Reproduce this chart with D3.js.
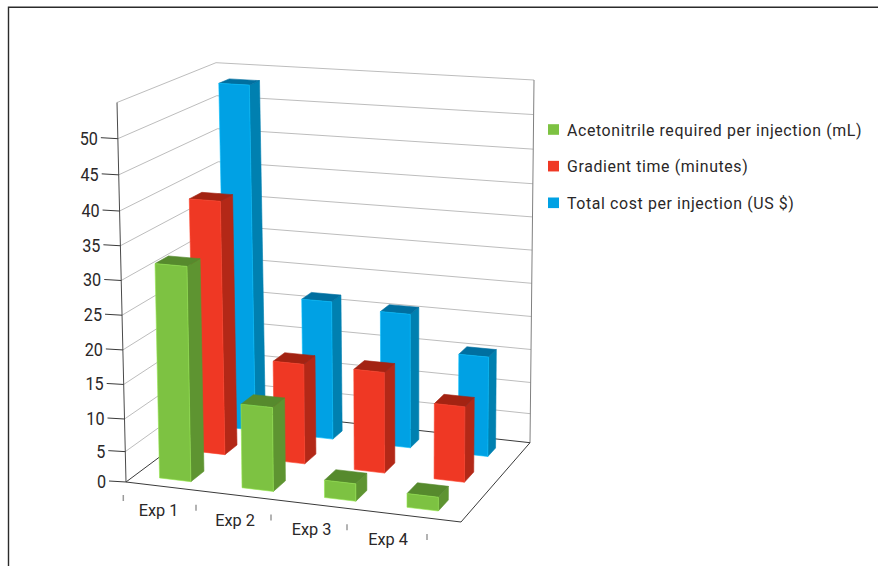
<!DOCTYPE html>
<html>
<head>
<meta charset="utf-8">
<script src="https://cdn.jsdelivr.net/npm/d3@7"></script>
<style>
  html, body { margin: 0; padding: 0; background: #fff; }
  svg { display: block; }
  text { font-family: "Roboto", sans-serif; fill: #2a2728; }
</style>
</head>
<body>
<svg id="chart" width="878" height="566"></svg>
<script>
// Chart data
const categories = ["Exp 1", "Exp 2", "Exp 3", "Exp 4"];
const seriesNames = [
  "Acetonitrile required per injection (mL)",
  "Gradient time (minutes)",
  "Total cost per injection (US $)"
];
const acetonitrile = [32, 12.9, 2.8, 2.2];
const gradientTime = [38.7, 15.6, 15.6, 11.8];
const totalCost = [53.4, 21.8, 21, 15.7];
const valueTicks = [0, 5, 10, 15, 20, 25, 30, 35, 40, 45, 50];
const seriesValues = [acetonitrile, gradientTime, totalCost];

const faceColors = [
  { front: "#7dc242", side: "#5e9431", top: "#568a2d" },
  { front: "#ef3824", side: "#b32817", top: "#a32312" },
  { front: "#00a1e4", side: "#0080b0", top: "#006fa0" }
];

const svg = d3.select("#chart");

// The plot box: eight corners, indexed by across (0/1), depth (0/1), height (0/1).
const boxCorners = {
  "000": [126, 482], "100": [461, 522], "110": [530, 442.7], "010": [224, 409],
  "001": [117, 102.5], "101": [464, 125], "111": [534, 80], "011": [216, 62.7]
};
function project(u, v, w) {
  let x = 0, y = 0;
  for (const a of [0, 1]) for (const b of [0, 1]) for (const c of [0, 1]) {
    const k = (a ? u : 1 - u) * (b ? v : 1 - v) * (c ? w : 1 - w);
    const p = boxCorners["" + a + b + c];
    x += k * p[0];
    y += k * p[1];
  }
  return [x, y];
}

// Scales from data space to the unit box
const uScale = d3.scaleBand().domain(categories).range([0.073, 0.912]).paddingInner(0.62).paddingOuter(0);
const rowEdge = d3.scaleLinear().domain([0, 1, 2, 3, 4, 5]).range([0.095, 0.235, 0.46, 0.59, 0.787, 0.895]);
const wScale = d3.scaleLinear().domain([0, 5, 10, 20, 40, 55]).range([0, 0.08, 0.166, 0.348, 0.714, 1]);

const line = d3.line();
const poly = pts => line(pts) + "Z";

// Text narrowed horizontally around its anchor
function label(parent, x, y, size, squeeze, anchor, str) {
  return parent.append("text")
    .attr("transform", `translate(${x},${y}) scale(${squeeze},1)`)
    .attr("font-size", size).attr("text-anchor", anchor).text(str);
}

// Frame around the figure
svg.append("path").attr("d", "M8.5,566V7.2H878").attr("fill", "none").attr("stroke", "#2b2b2b").attr("stroke-width", 1.4);

// Walls and gridlines
const grid = svg.append("g").attr("fill", "none").attr("stroke", "#bdbdbd").attr("stroke-width", 1);
d3.range(5, 60, 5).forEach(t => {
  const w = wScale(t);
  grid.append("path").attr("d", line([project(0, 0, w), project(0, 1, w), project(1, 1, w)]));
});

// Axis box edges
const edges = svg.append("g").attr("fill", "none");
edges.append("path").attr("d", line([project(1, 1, 1), project(1, 1, 0)])).attr("stroke", "#808080");
edges.append("path").attr("d", line([project(0, 1, 0), project(1, 1, 0)])).attr("stroke", "#3a3a3a");
edges.append("path").attr("d", line([project(0, 1, 0), project(0, 0, 0), project(1, 0, 0), project(1, 1, 0)])).attr("stroke", "#3a3a3a");
edges.append("path").attr("d", line([project(0, 0, 1), project(0, 0, 0)])).attr("stroke", "#4a4a4a");

// Value axis ticks and labels
const yAxis = svg.append("g");
valueTicks.forEach(t => {
  const [x, y] = project(0, 0, wScale(t));
  yAxis.append("line").attr("x1", x - 17).attr("y1", y - 1).attr("x2", x).attr("y2", y)
    .attr("stroke", "#3a3a3a").attr("stroke-width", 1);
  label(yAxis, x - 20, y + 6, 18, 0.9, "end", t);
});

// Category ticks and labels below the floor
const tickX = d3.scaleLinear().domain([0, 1, 2, 3, 4]).range([123.3, 196, 271, 347, 427]);
const tickY = d3.scaleLinear().domain([0, 4]).range([498, 537]);
const labelX = d3.scalePoint().domain(categories).range([158.5, 388]);
const labelY = d3.scalePoint().domain(categories).range([516, 545]);
const xAxis = svg.append("g");
d3.range(5).forEach(i => {
  xAxis.append("line").attr("x1", tickX(i)).attr("x2", tickX(i))
    .attr("y1", tickY(i) - 3).attr("y2", tickY(i) + 3)
    .attr("stroke", "#9a9a9a").attr("stroke-width", 1.5);
});
categories.forEach(c => {
  label(xAxis, labelX(c), labelY(c), 17, 0.96, "middle", c);
});

// Bars, painted from the back row forward
const bars = svg.append("g");
d3.range(seriesNames.length - 1, -1, -1).forEach(s => {
  categories.forEach((c, i) => {
    const u0 = uScale(c), u1 = u0 + uScale.bandwidth();
    const v0 = rowEdge(2 * s), v1 = rowEdge(2 * s + 1);
    const w = wScale(seriesValues[s][i]);
    const col = faceColors[s];
    const g = bars.append("g").attr("stroke-width", 0.6).attr("stroke-linejoin", "round");
    g.append("path").attr("fill", col.side).attr("stroke", col.side)
      .attr("d", poly([project(u1, v0, 0), project(u1, v1, 0), project(u1, v1, w), project(u1, v0, w)]));
    g.append("path").attr("fill", col.top).attr("stroke", col.top)
      .attr("d", poly([project(u0, v0, w), project(u1, v0, w), project(u1, v1, w), project(u0, v1, w)]));
    g.append("path").attr("fill", col.front).attr("stroke", d3.color(col.front).brighter(0.5))
      .attr("d", poly([project(u0, v0, 0), project(u1, v0, 0), project(u1, v0, w), project(u0, v0, w)]));
  });
});

// Legend
const legendY = d3.scalePoint().domain(seriesNames).range([129.5, 202.8]);
const legend = svg.append("g");
seriesNames.forEach((name, s) => {
  legend.append("rect").attr("x", 548).attr("y", legendY(name) - 5.3).attr("width", 11).attr("height", 10.6)
    .attr("fill", faceColors[s].front);
  label(legend, 567, legendY(name) + 6, 17.3, 0.92, "start", name).attr("letter-spacing", 0.66);
});
</script>
</body>
</html>
